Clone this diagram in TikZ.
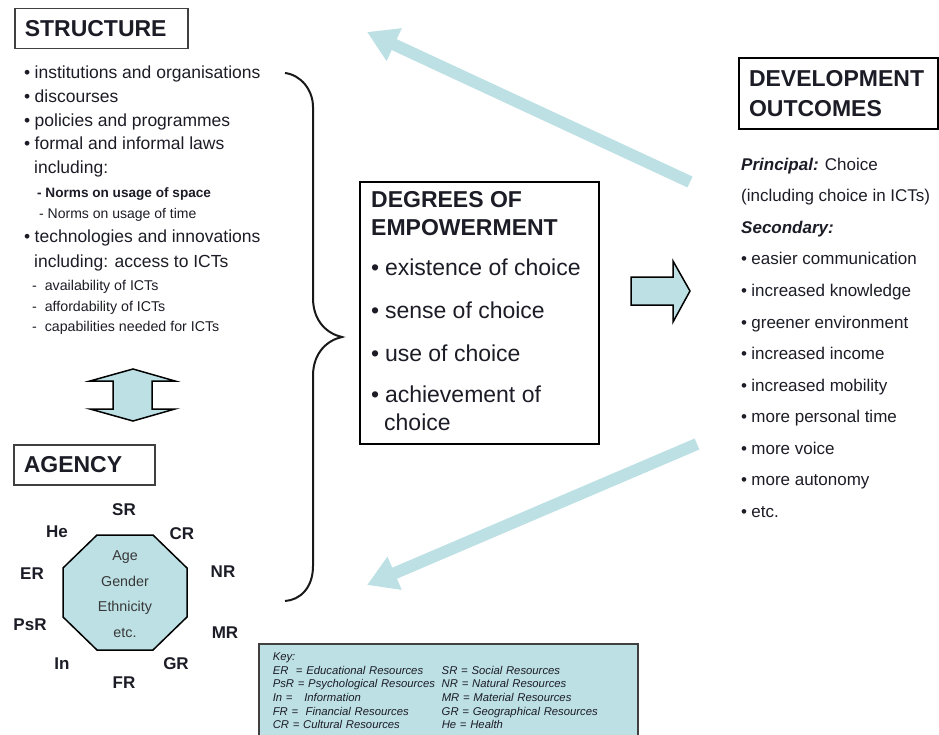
\documentclass[tikz,border=0pt]{standalone}
\usepackage{fontspec}
\setmainfont{Liberation Sans}
\usetikzlibrary{arrows.meta}

\definecolor{paleblue}{RGB}{188,224,228}
\definecolor{ink}{RGB}{28,28,38}
\newcommand{\bul}{\textbullet\hspace{0.25em}}

\begin{document}
\begin{tikzpicture}[x=1pt,y=-1pt,
	titlebox/.style={draw=black!75, line width=1.5pt, anchor=north west, align=left,
		inner xsep=10pt, text=ink, font=\fontsize{23}{30}\selectfont\bfseries},
	degtitle/.style={anchor=base west, inner sep=0, text=ink, font=\fontsize{23}{26}\selectfont\bfseries},
	degitem/.style={anchor=base west, inner sep=0, text=ink, font=\fontsize{23}{26}\selectfont},
	item/.style={anchor=base west, inner sep=0, text=ink, font=\fontsize{17.5}{20}\selectfont},
	outitem/.style={anchor=base west, inner sep=0, text=ink, font=\fontsize{17}{20}\selectfont},
	subitem/.style={anchor=base west, inner sep=0, text=ink, font=\fontsize{14}{16}\selectfont},
	smallitem/.style={anchor=base west, inner sep=0, text=ink, font=\fontsize{14.2}{16}\selectfont},
	res/.style={inner sep=0, text=ink, font=\fontsize{17}{20}\selectfont\bfseries},
	blockarrow/.style={draw=black, line width=1.5pt, fill=paleblue, line join=miter},
	bigarrow/.style={draw=paleblue, line width=12pt, -{Triangle[length=30pt,width=34pt]}}
]
	\useasboundingbox (0,0) rectangle (939,735);

	% structure
	\node[titlebox, text width=153, minimum height=40] (structure) at (14,8) {STRUCTURE};

	\foreach \y/\txt [count=\i] in {79/{\bul institutions and organisations}, 103/{\bul discourses},
		127/{\bul policies and programmes}, 150/{\bul formal and informal laws}}
		\node[item] (st-\i) at (24,\y) {\txt};
	\node[item] (st-5) at (34,174) {including:};
	\node[subitem, font=\fontsize{13.6}{16}\selectfont] (st-6) at (37,198) {\textbf{- Norms on usage of space}};
	\node[subitem] (st-7) at (39,219) {- Norms on usage of time};
	\node[item] (st-8) at (24,243) {\bul technologies and innovations};
	\node[item] (st-9) at (34,267) {including: access to ICTs};
	\foreach \y/\txt [count=\i from 10] in {290/{-\ \ availability of ICTs}, 311/{-\ \ affordability of ICTs},
		331/{-\ \ capabilities needed for ICTs}}
		\node[smallitem] (st-\i) at (32,\y) {\txt};

	\draw[line width=2pt, draw=black!90] (285,73) .. controls (301,75) and (313,90) .. (313,107) -- (313,298)
		.. controls (313,322) and (328,334) .. (342,337) .. controls (328,340) and (313,352) .. (313,376)
		-- (313,566) .. controls (313,588) and (300,600) .. (285,601);

	% structure <-> agency
	\draw[blockarrow] (133,369) -- (175,381) -- (152,381) -- (152,409) -- (175,409) -- (133,421)
		-- (90,409) -- (113,409) -- (113,381) -- (90,381) -- cycle;

	% agency
	\node[titlebox, text width=121, minimum height=40] (agency) at (13,444) {AGENCY};

	\draw[blockarrow] (97,535) -- (153,535) -- (187,568) -- (187,617) -- (153,650) -- (97,650)
		-- (63,617) -- (63,568) -- cycle;
	\node[align=center, inner sep=0, text=black!78, font=\fontsize{14.3}{25.7}\selectfont] (traits) at (125,594)
		{Age\\Gender\\Ethnicity\\etc.};

	\foreach \n/\x/\y in {SR/124/510, CR/182/534, NR/223/572, MR/225/633, GR/176/664,
		FR/124/683, In/62/664, PsR/30/625, ER/32/574, He/57/532}
		\node[res] (res-\n) at (\x,\y) {\n};

	% degrees of empowerment
	\node[draw=black, line width=2pt, minimum width=239, minimum height=262, anchor=north west] (degrees) at (359,181) {};
	\node[degtitle] (deg-t1) at (371,208) {DEGREES OF};
	\node[degtitle] (deg-t2) at (371,236) {EMPOWERMENT};
	\foreach \y/\txt [count=\i] in {276/{\bul existence of choice}, 318/{\bul sense of choice},
		361/{\bul use of choice}, 402/{\bul achievement of}}
		\node[degitem] (deg-\i) at (371,\y) {\txt};
	\node[degitem] (deg-5) at (384,430) {choice};

	\draw[blockarrow] (631,277) -- (673,277) -- (673,261) -- (690,291) -- (673,322) -- (673,305) -- (631,305) -- cycle;

	% development outcomes
	\node[titlebox, draw=black, line width=2pt, text width=179, minimum height=71] (outcomes) at (738,57)
		{DEVELOPMENT\\OUTCOMES};
	\node[outitem] (out-p) at (741,171) {\textbf{\textit{Principal:}} Choice};
	\node[outitem] (out-i) at (741,202) {(including choice in ICTs)};
	\node[outitem] (out-s) at (741,234) {\textbf{\textit{Secondary:}}};
	\foreach \txt [count=\i] in {easier communication, increased knowledge, greener environment,
		increased income, increased mobility, more personal time, more voice, more autonomy, etc.}
		\node[outitem] (out-\i) at (741,{265+31.5*(\i-1)}) {\bul\txt};

	% feedback arrows
	\coordinate (up-tail) at (690,182);
	\coordinate (up-head) at (367,32);
	\coordinate (down-tail) at (697,444);
	\coordinate (down-head) at (367,585);
	\draw[bigarrow] (up-tail) -- (up-head);
	\draw[bigarrow] (down-tail) -- (down-head);

	% key
	\node[draw=black!75, line width=1.5pt, fill=paleblue, anchor=north west, text width=351,
		inner xsep=14pt, inner ysep=7pt, text=ink, font=\fontsize{11.3}{13.7}\selectfont\itshape] (key) at (258,643)
		{\begin{tabular}{@{}p{169pt}@{}l@{}}
			Key: & \\
			ER\ \ = Educational Resources & SR = Social Resources \\
			PsR = Psychological Resources & NR = Natural Resources \\
			In = \hspace{8pt}Information & MR = Material Resources \\
			FR = \ Financial Resources & GR = Geographical Resources \\
			CR = Cultural Resources & He = Health
		\end{tabular}};

\end{tikzpicture}
\end{document}
